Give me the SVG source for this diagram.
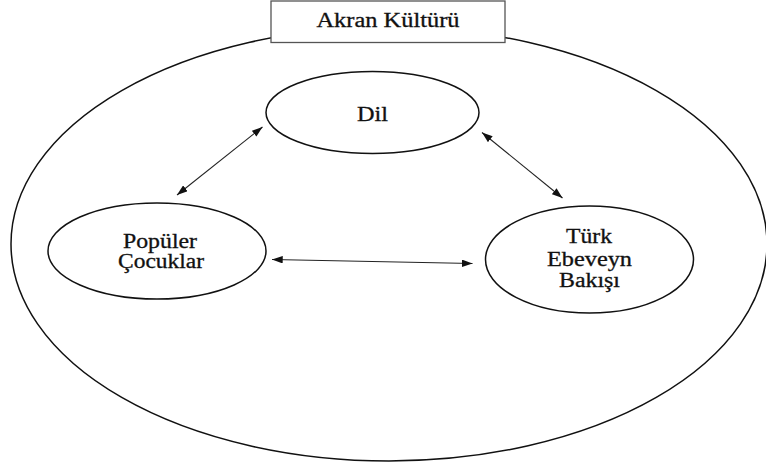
<svg xmlns="http://www.w3.org/2000/svg" width="766" height="466" viewBox="0 0 766 466">
<style>
.node{fill:#fff;stroke:#111;stroke-width:1.5}
.lbl{font-size:20px;fill:#111;text-anchor:middle;stroke:#111;stroke-width:0.3}
.conn{stroke:#222;stroke-width:1.1;fill:none;marker-start:url(#ah);marker-end:url(#ah)}
</style>
<defs>
<marker id="ah" viewBox="0 0 10 7" refX="10" refY="3.5" markerWidth="11" markerHeight="7.5" markerUnits="userSpaceOnUse" orient="auto-start-reverse">
<path d="M0,0 L10,3.5 L0,7 z" fill="#111"/>
</marker>
</defs>
<rect width="766" height="466" fill="#fff"/>
<g id="akran-kulturu">
<ellipse cx="389" cy="244" rx="378" ry="217" class="node"/>
<rect x="271" y="1" width="234" height="41.5" fill="#fff" stroke="#555" stroke-width="1.3"/>
<text x="388" y="27" class="lbl" font-family="Liberation Serif, serif" textLength="143" lengthAdjust="spacingAndGlyphs">Akran Kültürü</text>
</g>
<g id="dil" font-family="Liberation Serif, serif">
<ellipse cx="372.5" cy="112.5" rx="106.5" ry="41" class="node"/>
<text x="372.5" y="120.5" class="lbl" textLength="31" lengthAdjust="spacingAndGlyphs">Dil</text>
</g>
<g id="populer-cocuklar" font-family="Liberation Serif, serif">
<ellipse cx="157" cy="251" rx="109" ry="48" class="node"/>
<text x="160" y="248" class="lbl" textLength="74" lengthAdjust="spacingAndGlyphs">Popüler</text>
<text x="161" y="268" class="lbl" textLength="86" lengthAdjust="spacingAndGlyphs">Çocuklar</text>
</g>
<g id="turk-ebeveyn-bakisi" font-family="Liberation Serif, serif">
<ellipse cx="589.5" cy="259.5" rx="104" ry="53.5" class="node"/>
<text x="589" y="243" class="lbl" textLength="46" lengthAdjust="spacingAndGlyphs">Türk</text>
<text x="589.5" y="266" class="lbl" textLength="85" lengthAdjust="spacingAndGlyphs">Ebeveyn</text>
<text x="589.5" y="287" class="lbl" textLength="61" lengthAdjust="spacingAndGlyphs">Bakışı</text>
</g>
<g id="connectors">
<line x1="177" y1="195" x2="262.5" y2="127" class="conn"/>
<line x1="482" y1="132.5" x2="562.5" y2="198" class="conn"/>
<line x1="272" y1="259.5" x2="472.5" y2="263.5" class="conn"/>
</g>
</svg>
